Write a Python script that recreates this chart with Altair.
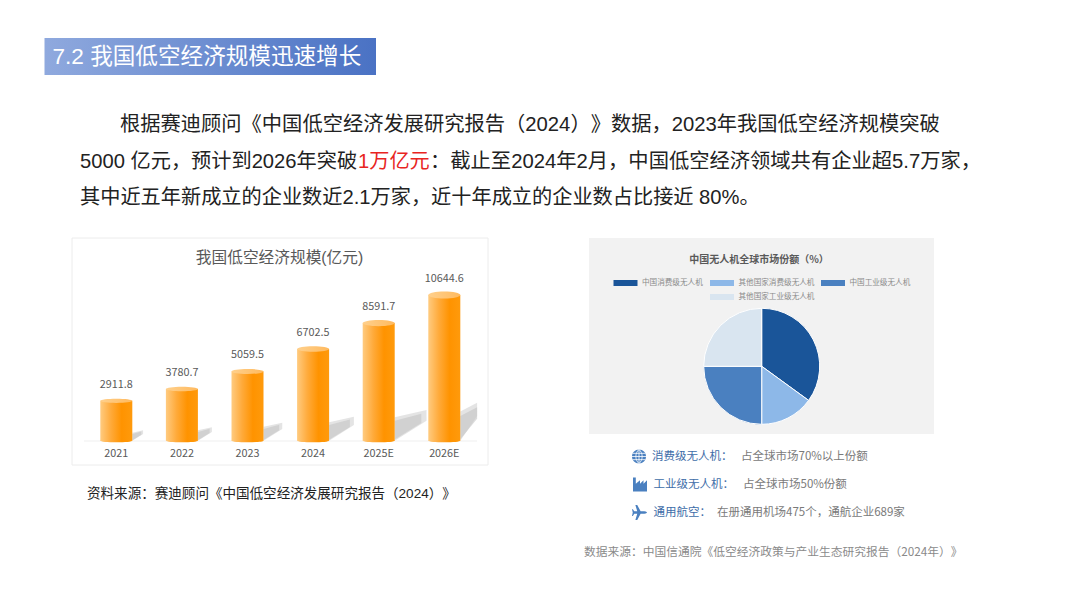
import altair as alt
import pandas as pd

FONT = "Liberation Sans, Noto Sans CJK SC"
CJK = "Noto Sans CJK SC"

years = ["2021", "2022", "2023", "2024", "2025E", "2026E"]
scale_values = [2911.8, 3780.7, 5059.5, 6702.5, 8591.7, 10644.6]
pie_names = ["中国消费级无人机", "其他国家消费级无人机", "中国工业级无人机", "其他国家工业级无人机"]
pie_values = [35, 15, 25, 25]
pie_colors = ["#1a5599", "#8db8e8", "#4a80c0", "#d9e5f0"]
ZW = "\u200b"


def px(v):
    return alt.value(v - 8)


def label(t, x, y, size, color, align="left", weight="normal", font=FONT):
    return alt.Chart(pd.DataFrame({"t": [t]})).mark_text(
        align=align, baseline="middle", fontSize=size, color=color, fontWeight=weight, font=font
    ).encode(x=px(x), y=px(y), text="t:N")


def box(x0, y0, x1, y1, **kw):
    return alt.Chart(pd.DataFrame({"a": [0]})).mark_rect(**kw).encode(
        x=px(x0), x2=px(x1), y=px(y0), y2=px(y1)
    )


def grad(*stops, x2=1, y2=0):
    n = len(stops) - 1
    return alt.LinearGradient(
        gradient="linear", x1=0, y1=0, x2=x2, y2=y2,
        stops=[alt.GradientStop(color=c, offset=i / n) for i, c in enumerate(stops)],
    )


layers = []
# header
layers.append(box(44.5, 38, 376, 75, color=grad("#8fa9de", "#4a72c4")))
layers.append(label("7.2 我国低空经济规模迅速增长", 52.5, 57, 22.6, "#ffffff"))

# body paragraph
INK = "#222222"
layers.append(label(f"根据赛迪顾问《中国低空经济发展研究报告（2024）{ZW}》数据，2023年我国低空经济规模突破", 120, 124.5, 20.28, INK))
layers.append(label("5000 亿元，预计到2026年突破", 80, 161.5, 20.2, INK))
layers.append(label("1万亿元", 358, 161.5, 20.2, "#e8251f"))
layers.append(label("：截止至2024年2月，中国低空经济领域共有企业超5.7万家，", 430, 161.5, 20.3, INK))
layers.append(label("其中近五年新成立的企业数近2.1万家，近十年成立的企业数占比接近 80%。", 80, 197.5, 20.2, INK))

# left panel
layers.append(box(72, 238, 488, 465, fill="#ffffff", stroke="#ececec", strokeWidth=1))
layers.append(label("我国低空经济规模(亿元)", 279.5, 257.5, 15.7, "#595959", align="center"))
layers.append(label(f"资料来源：赛迪顾问《中国低空经济发展研究报告（2024）{ZW}》", 87, 493.5, 13.55, "#222222"))

y_scale = alt.Scale(domain=[0, 10644.6], range=[432.7, 287], nice=False, zero=True)
x_band = alt.Scale(domain=years, range=[75.5, 469.1], paddingInner=0.512, paddingOuter=0.256)
x_num = alt.Scale(domain=[-0.5, 5.5], range=[75.5, 469.1], nice=False, zero=False)

outer_rows, inner_rows = [], []
for i, v in enumerate(scale_values):
    r = i + 0.244
    e = min(r + v * 0.0037 / 65.6, 5.5)
    m = min(r + v * 0.0031 / 65.6, 5.5)
    outer_rows.append({"g": i, "x": r, "lo": 0, "hi": 0.2 * v})
    outer_rows.append({"g": i, "x": e, "lo": 0.17 * v, "hi": 0.26 * v})
    inner_rows.append({"g": i, "x": r, "lo": 0.01 * v, "hi": 0.17 * v})
    inner_rows.append({"g": i, "x": m, "lo": 0.15 * v, "hi": 0.23 * v})
for rows, op in ((outer_rows, 0.45), (inner_rows, 0.6)):
    layers.append(
        alt.Chart(pd.DataFrame(rows)).mark_area(color="#c4c4c4", opacity=op).encode(
            x=alt.X("x:Q", scale=x_num, axis=None),
            y=alt.Y("lo:Q", scale=y_scale, axis=None),
            y2="hi:Q",
            detail="g:N",
        )
    )
layers.append(
    alt.Chart(pd.DataFrame({"a": [0]})).mark_rule(color="#efefef").encode(
        x=px(84), x2=px(477), y=px(441)
    )
)

bars = pd.DataFrame({"year": years, "value": scale_values})
bars["zero"] = 0.0
bars["top_shape"] = [
    f"M-1,0A1,{0.1 + 0.12 * v / 10644.6:.3f} 0 1 1 1,0A1,{0.1 + 0.12 * v / 10644.6:.3f} 0 1 1 -1,0Z"
    for v in scale_values
]
ELL = "M-1,0A1,0.1 0 1 1 1,0A1,0.1 0 1 1 -1,0Z"
body = grad("#ffcb80", "#ffaa3a", "#ff9300", "#ff9a0c")
X = alt.X("year:N", scale=x_band, axis=None, sort=years)
Y = alt.Y("value:Q", scale=y_scale, axis=None)
layers.append(
    alt.Chart(bars).mark_point(filled=True, opacity=1, size=1024, shape=ELL, fill=body, strokeWidth=0).encode(
        x=X, y=alt.Y("zero:Q", scale=y_scale, axis=None)
    )
)
layers.append(alt.Chart(bars).mark_bar(fill=body).encode(x=X, y=Y))
layers.append(
    alt.Chart(bars).mark_point(filled=True, opacity=1, size=1024, fill=grad("#ffd08c", "#ffba5f"), strokeWidth=0).encode(
        x=X, y=Y, shape=alt.Shape("top_shape:N", scale=None, legend=None)
    )
)
layers.append(
    alt.Chart(bars).mark_text(dy=-16, fontSize=10.8, color="#595959", font=CJK).encode(
        x=X, y=Y, text=alt.Text("value:Q", format=".1f")
    )
)
layers.append(
    alt.Chart(bars).mark_text(fontSize=10.8, color="#595959", font=CJK).encode(
        x=X, y=px(453.5), text="year:N"
    )
)

# right panel
layers.append(box(589, 238, 934, 434, fill="#f2f2f2"))
layers.append(label("中国无人机全球市场份额（%）", 759, 260, 10, "#595959", align="center", weight="bold", font=CJK))
legend_pos = [(613.5, 283), (710, 283), (821, 283), (710, 297)]
for name, col, (lx, ly) in zip(pie_names, pie_colors, legend_pos):
    layers.append(box(lx, ly - 3, lx + 24, ly + 3, color=col))
    layers.append(label(name, lx + 28.5, ly, 7.6, "#8a8a8a", font=CJK))

pie = pd.DataFrame({"name": pie_names, "value": pie_values, "idx": range(4)})
layers.append(
    alt.Chart(pie).mark_arc(radius=58, stroke="#ffffff", strokeWidth=1).encode(
        theta=alt.Theta("value:Q", stack=True),
        color=alt.Color("name:N", scale=alt.Scale(domain=pie_names, range=pie_colors), legend=None),
        order=alt.Order("idx:Q"),
        x=px(761.7),
        y=px(366.3),
    )
)

# icons
ICON = "#4a80c0"
GLOBE = "M-1,0A1,1 0 1 1 1,0A1,1 0 1 1 -1,0Z"
GRID = "M-1,0L1,0M0,-1L0,1M-0.9,-0.45L0.9,-0.45M-0.9,0.45L0.9,0.45M0,-1C-0.6,-0.5 -0.6,0.5 0,1M0,-1C0.6,-0.5 0.6,0.5 0,1"
FACTORY = "M-1,-1L-0.6,-1L-0.6,-0.1L0,-0.6L0,-0.1L0.5,-0.6L0.5,-0.1L1,-0.6L1,1L-1,1Z"
PLANE = "M1,0C1,-0.12 0.7,-0.16 0.45,-0.16L0.15,-0.16L-0.3,-1L-0.55,-1L-0.3,-0.16L-0.7,-0.16L-0.88,-0.45L-1,-0.45L-0.9,0L-1,0.45L-0.88,0.45L-0.7,0.16L-0.3,0.16L-0.55,1L-0.3,1L0.15,0.16L0.45,0.16C0.7,0.16 1,0.12 1,0Z"


def icon(path, x, y, size, **kw):
    return alt.Chart(pd.DataFrame({"a": [0]})).mark_point(shape=path, size=size, opacity=1, **kw).encode(x=px(x), y=px(y))


layers.append(icon(GLOBE, 639, 456.5, 196, filled=True, fill=ICON, strokeWidth=0))
layers.append(icon(GRID, 639, 456.5, 196, filled=False, stroke="#ffffff", strokeWidth=0.8))
layers.append(icon(FACTORY, 640, 484.5, 196, filled=True, fill=ICON, strokeWidth=0))
layers.append(icon(PLANE, 639.5, 512.5, 225, filled=True, fill=ICON, strokeWidth=0))

BLUE = "#3e6da8"
GRAY = "#7a7a7a"
layers.append(label("消费级无人机：", 652, 456.5, 11.5, BLUE, font=CJK))
layers.append(label("占全球市场70%以上份额", 741, 456.5, 11.5, GRAY, font=CJK))
layers.append(label("工业级无人机：", 653.5, 484.5, 11.5, BLUE, font=CJK))
layers.append(label("占全球市场50%份额", 743, 484.5, 11.5, GRAY, font=CJK))
layers.append(label("通用航空：", 653.5, 512.5, 11.5, BLUE, font=CJK))
layers.append(label("在册通用机场475个，通航企业689家", 717, 512.5, 11.5, GRAY, font=CJK))
layers.append(label(f"数据来源：中国信通院《低空经济政策与产业生态研究报告（2024年）{ZW}》", 584, 552, 11.75, "#8a8a8a", font=CJK))

chart = (
    alt.layer(*layers)
    .resolve_scale(x="independent", y="independent", color="independent", theta="independent", shape="independent")
    .properties(width=1064, height=592, padding=0, autosize="none", background="#ffffff")
    .configure_view(stroke=None)
)
chart.save("out.html", embed_options={"renderer": "svg", "actions": False})
